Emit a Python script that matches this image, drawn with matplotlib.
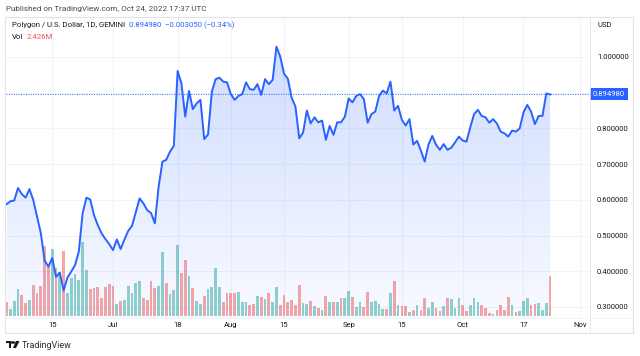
import numpy as np
import pandas as pd
import matplotlib
matplotlib.use("Agg")
import matplotlib.pyplot as plt
import matplotlib.dates as mdates
import matplotlib.transforms as mtransforms
from matplotlib.patches import Rectangle, Polygon, Circle
from matplotlib.lines import Line2D

# daily closes, MATIC/USD (Gemini), Jun 3 - Oct 24 2022
start_date = "2022-06-03"
closes = [
    0.588, 0.596, 0.598, 0.633, 0.616, 0.606, 0.630, 0.600, 0.553, 0.507,
    0.430, 0.413, 0.437, 0.384, 0.396, 0.346, 0.382, 0.399, 0.417, 0.455,
    0.562, 0.606, 0.601, 0.557, 0.529, 0.506, 0.490, 0.476, 0.459, 0.489,
    0.462, 0.489, 0.513, 0.527, 0.566, 0.604, 0.590, 0.571, 0.563, 0.534,
    0.637, 0.707, 0.712, 0.735, 0.751, 0.961, 0.926, 0.833, 0.905, 0.854,
    0.870, 0.880, 0.770, 0.783, 0.903, 0.938, 0.942, 0.931, 0.929, 0.896,
    0.880, 0.891, 0.896, 0.929, 0.910, 0.908, 0.924, 0.894, 0.938, 0.924,
    0.936, 1.029, 1.001, 0.953, 0.939, 0.886, 0.861, 0.772, 0.788, 0.850,
    0.814, 0.831, 0.817, 0.822, 0.768, 0.807, 0.782, 0.817, 0.817, 0.833,
    0.884, 0.873, 0.891, 0.896, 0.882, 0.816, 0.840, 0.847, 0.891, 0.906,
    0.898, 0.931, 0.850, 0.863, 0.824, 0.808, 0.826, 0.755, 0.765, 0.738,
    0.707, 0.755, 0.779, 0.754, 0.740, 0.756, 0.740, 0.746, 0.761, 0.777,
    0.766, 0.763, 0.803, 0.840, 0.852, 0.835, 0.831, 0.816, 0.826, 0.814,
    0.791, 0.786, 0.777, 0.794, 0.791, 0.800, 0.845, 0.866, 0.847, 0.812,
    0.835, 0.835, 0.898, 0.89498,
]

# volume in millions
volumes = [
    0.82, 0.42, 0.90, 1.61, 1.25, 0.76, 0.98, 1.87, 1.38, 1.81,
    4.21, 3.07, 4.03, 2.87, 2.63, 3.89, 1.37, 2.31, 2.53, 2.17,
    4.47, 2.79, 1.63, 1.70, 1.73, 1.08, 1.73, 1.93, 1.79, 0.74,
    0.88, 0.95, 1.82, 1.37, 2.00, 2.13, 1.07, 0.95, 2.09, 1.70,
    1.81, 3.83, 1.97, 1.32, 1.55, 4.26, 2.61, 3.37, 2.43, 1.70,
    0.90, 0.72, 1.20, 1.61, 1.75, 2.89, 1.76, 0.82, 1.38, 1.38,
    1.38, 1.43, 0.82, 0.86, 0.66, 0.70, 1.20, 1.14, 1.02, 1.37,
    0.82, 1.75, 0.68, 1.25, 0.86, 0.98, 0.66, 1.87, 0.78, 0.72,
    0.90, 0.58, 0.48, 0.36, 1.19, 0.82, 0.82, 0.82, 1.08, 1.08,
    1.51, 1.14, 0.56, 0.82, 0.56, 1.44, 0.82, 0.88, 0.74, 0.44,
    0.44, 1.38, 2.09, 0.64, 0.60, 0.62, 0.22, 0.34, 0.66, 0.36,
    1.08, 0.48, 0.86, 0.48, 0.32, 0.60, 1.08, 1.02, 0.48, 1.08,
    0.64, 0.32, 0.64, 1.07, 0.84, 0.68, 0.48, 0.18, 0.14, 0.36,
    0.68, 0.34, 1.14, 0.64, 0.24, 0.30, 0.90, 1.10, 0.68, 0.72,
    0.76, 0.34, 0.76, 2.426,
]

# G = up day, R = down day
directions = (
    "RGGGRRGRRR" "RRGRGRGGGG" "GGRRRRRRRG" "RGGGGGRRRR" "GGRGGGRRGR"
    "GGRGGGGRRR" "RGGGRRGRGR" "GGRRRRRRGG" "RGRGRGRGRG" "GRGGRRGGGG"
    "RGRGRRGRGR" "RGGRRGRGGG" "RRGGGRRRGR" "RRRGRGGGRR" "GGGR"
)

price_grid = [0.3, 0.4, 0.5, 0.6, 0.7, 0.8, 0.9, 1.0]
price_labels = [0.3, 0.4, 0.5, 0.6, 0.7, 0.8, 1.0]  # 0.9 hidden behind last-price badge
date_ticks = ["2022-06-15", "2022-07-01", "2022-07-18", "2022-08-01", "2022-08-15",
              "2022-09-01", "2022-09-15", "2022-10-01", "2022-10-17", "2022-11-01"]
date_labels = ["15", "Jul", "18", "Aug", "15", "Sep", "15", "Oct", "17", "Nov"]

last_price = 0.894980
change = -0.003050
change_pct = -0.34

BLUE = "#2962ff"
GREEN = "#26a69a"
RED = "#ef5350"
TXT = "#131722"
GRID = "#f0f3fa"
BORDER = "#e0e3eb"

plt.rcParams["font.family"] = ["Roboto", "DejaVu Sans"]

W, H = 640, 356
fig = plt.figure(figsize=(W / 100, H / 100), dpi=100)
fig.patch.set_facecolor("white")


def fx(x):
    return x / W


def fy(y):
    return 1 - y / H


dates = pd.date_range(start_date, periods=len(closes), freq="D")
xd = mdates.date2num(dates)
d0 = xd[0]

rect = [fx(6), fy(318), fx(590) - fx(6), fy(17) - fy(318)]
ax_vol = fig.add_axes(rect)
ax = fig.add_axes(rect, sharex=ax_vol)
ax.patch.set_visible(False)

ax.set_xlim(d0 - 0.16, d0 + 153.5)
ax.set_ylim(0.269, 1.112)
ax_vol.set_ylim(-0.12, 18.0)

# grid under the volume bars
blend = mtransforms.blended_transform_factory(ax_vol.transAxes, ax.transData)
for p in price_grid:
    ax_vol.plot([0, 1], [p, p], transform=blend, color=GRID, lw=0.8, zorder=0)
for t in date_ticks:
    ax_vol.axvline(mdates.datestr2num(t), color=GRID, lw=0.8, zorder=0)

# volume
bar_colors = [GREEN if c == "G" else RED for c in directions]
ax_vol.bar(xd, volumes, width=0.72, color=bar_colors, alpha=0.5, linewidth=0, zorder=2)

# gradient area under price
y_top, y_bot = 1.03, 0.269
alpha = np.linspace(0.22, 0.03, 256).reshape(-1, 1)
grad = np.zeros((256, 1, 4))
grad[..., 0] = 41 / 255
grad[..., 1] = 98 / 255
grad[..., 2] = 1.0
grad[..., 3] = alpha
img = ax.imshow(grad, aspect="auto", extent=[xd[0], xd[-1], y_bot, y_top],
                origin="upper", zorder=1, interpolation="bilinear")
verts = [(xd[0], y_bot)] + list(zip(xd, closes)) + [(xd[-1], y_bot)]
clip = Polygon(verts, closed=True, facecolor="none", edgecolor="none")
ax.add_patch(clip)
img.set_clip_path(clip)

ax.plot(xd, closes, color=BLUE, lw=1.4, zorder=3, solid_joinstyle="round")
ax.axhline(last_price, color=BLUE, lw=0.7, ls=(0, (1, 1.5)), zorder=2)

# axes decorations
for a in (ax, ax_vol):
    for s in a.spines.values():
        s.set_visible(False)
ax_vol.set_yticks([])
ax_vol.tick_params(axis="x", length=0, labelbottom=False)
ax.yaxis.tick_right()
ax.set_yticks(price_labels)
ax.set_yticklabels([f"{p:.6f}" for p in price_labels])
ax.tick_params(axis="y", length=0, pad=5, labelsize=5.5, labelcolor=TXT)
ax.set_xticks([mdates.datestr2num(t) for t in date_ticks])
ax.set_xticklabels(date_labels)
ax.tick_params(axis="x", length=0, pad=3, labelsize=5.5, labelcolor=TXT)

# last price label on scale
fig.patches.append(Rectangle((fx(590), fy(100)), fx(628) - fx(590), fy(88) - fy(100),
                             transform=fig.transFigure, facecolor=BLUE, edgecolor="none"))
fig.text(fx(609), fy(94), f"{last_price:.6f}", color="white", fontsize=5.5,
         ha="center", va="center")
fig.text(fx(597), fy(25), "USD", color=TXT, fontsize=5.5, ha="left", va="center")

# frame
fig.patches.append(Rectangle((fx(5), fy(333)), fx(633) - fx(5), fy(17) - fy(333),
                             transform=fig.transFigure, facecolor="none",
                             edgecolor=BORDER, lw=0.8))
fig.lines.append(Line2D([fx(590), fx(590)], [fy(17), fy(333)], transform=fig.transFigure,
                        color=BORDER, lw=0.6))
fig.lines.append(Line2D([fx(5), fx(633)], [fy(318), fy(318)], transform=fig.transFigure,
                        color=GRID, lw=0.6))

# header texts
fig.text(fx(6), fy(9), "Published on TradingView.com, Oct 24, 2022 17:37 UTC",
         color="#4a4a4a", fontsize=5.9, ha="left", va="center")
fig.text(fx(12), fy(25), "Polygon / U.S. Dollar, 1D, GEMINI",
         color=TXT, fontsize=5.6, ha="left", va="center")
fig.text(fx(129), fy(25), f"{last_price:.6f}  \u2212{abs(change):.6f} (\u2212{abs(change_pct):.2f}%)",
         color=BLUE, fontsize=5.6, ha="left", va="center")
fig.text(fx(12), fy(37), "Vol", color=TXT, fontsize=5.6, ha="left", va="center")
fig.text(fx(27), fy(37), f"{volumes[-1]:.3f}M", color=RED, fontsize=5.6, ha="left", va="center")

# TradingView logo
fig.patches.append(Rectangle((fx(6), fy(343)), fx(11) - fx(6), fy(341) - fy(343),
                             transform=fig.transFigure, facecolor=TXT, edgecolor="none"))
fig.patches.append(Rectangle((fx(9), fy(348)), fx(11) - fx(9), fy(343) - fy(348),
                             transform=fig.transFigure, facecolor=TXT, edgecolor="none"))
fig.patches.append(Circle((fx(13), fy(342.5)), 1.3 / H, transform=fig.transFigure,
                          facecolor=TXT, edgecolor="none"))
fig.patches.append(Polygon([(fx(16), fy(341)), (fx(19.5), fy(341)), (fx(16), fy(348)),
                            (fx(13), fy(348))], closed=True, transform=fig.transFigure,
                           facecolor=TXT, edgecolor="none"))
fig.text(fx(22), fy(345), "TradingView", color="#2a2e39", fontsize=6.5, ha="left", va="center")

fig.savefig("out.png", dpi=100, facecolor="white")
